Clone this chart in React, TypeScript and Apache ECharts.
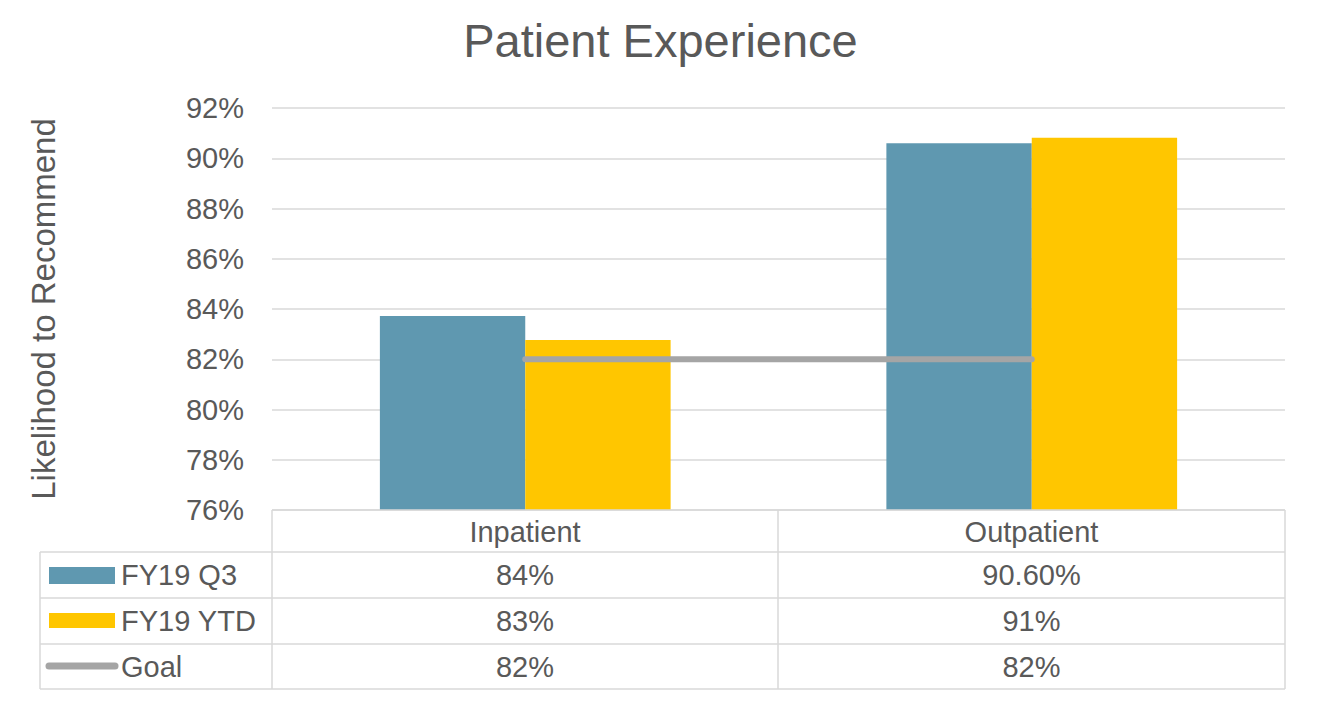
import React, { useEffect, useRef } from "react";
import * as echarts from "echarts";

const categories = ["Inpatient", "Outpatient"];
const q3Values = [83.72, 90.6];
const ytdValues = [82.77, 90.82];
const goalValues = [82, 82];
const q3Labels = ["84%", "90.60%"];
const ytdLabels = ["83%", "91%"];
const goalLabels = ["82%", "82%"];
const seriesNames = ["FY19 Q3", "FY19 YTD", "Goal"];

const TEXT = "#595959";
const GRID = "#D9D9D9";
const BLUE = "#5F98B0";
const GOLD = "#FFC600";
const GREY = "#A5A5A5";
const FONT = "Liberation Sans, Arial, sans-serif";

export default function App() {
  const ref = useRef<HTMLDivElement>(null);
  useEffect(() => {
    const chart = echarts.init(ref.current!, null, { renderer: "svg" });
    const colX = [40, 272, 778, 1285];
    const rowY = [510, 552, 598, 644, 689];
    const graphic: any[] = [];
    const line = (x1: number, y1: number, x2: number, y2: number) =>
      graphic.push({ type: "line", shape: { x1, y1, x2, y2 }, style: { stroke: GRID, lineWidth: 1.5 }, z: 10 });
    line(272, rowY[0], 1285, rowY[0]);
    for (let i = 1; i < rowY.length; i++) line(40, rowY[i], 1285, rowY[i]);
    line(colX[0], rowY[1], colX[0], rowY[4]);
    for (let i = 1; i < colX.length; i++) line(colX[i], rowY[0], colX[i], rowY[4]);
    const txt = (text: string, x: number, y: number, align = "center") =>
      graphic.push({
        type: "text",
        x,
        y,
        style: { text, fill: TEXT, font: `29px ${FONT}`, align, verticalAlign: "middle" },
        z: 10,
      });
    categories.forEach((c, i) => txt(c, (colX[i + 1] + colX[i + 2]) / 2, (rowY[0] + rowY[1]) / 2 + 1));
    const rowsLabels = [q3Labels, ytdLabels, goalLabels];
    rowsLabels.forEach((labels, r) => {
      const cy = (rowY[r + 1] + rowY[r + 2]) / 2;
      labels.forEach((l, i) => txt(l, (colX[i + 1] + colX[i + 2]) / 2, cy));
      txt(seriesNames[r], 121, cy, "left");
    });
    graphic.push({ type: "rect", shape: { x: 49, y: 567, width: 66, height: 17 }, style: { fill: BLUE }, z: 10 });
    graphic.push({ type: "rect", shape: { x: 49, y: 613, width: 66, height: 15 }, style: { fill: GOLD }, z: 10 });
    graphic.push({
      type: "line",
      shape: { x1: 49, y1: 666, x2: 115, y2: 666 },
      style: { stroke: GREY, lineWidth: 7, lineCap: "round" },
      z: 10,
    });

    chart.setOption({
      animation: false,
      backgroundColor: "#fff",
      title: {
        text: "Patient Experience",
        left: "center",
        top: 12,
        textStyle: { color: TEXT, fontSize: 47, fontWeight: "normal", fontFamily: FONT },
      },
      grid: { left: 272, right: 36, top: 108, bottom: 192 },
      xAxis: {
        type: "category",
        data: categories,
        axisLine: { show: false },
        axisTick: { show: false },
        axisLabel: { show: false },
      },
      yAxis: {
        type: "value",
        min: 76,
        max: 92,
        interval: 2,
        name: "Likelihood to Recommend",
        nameLocation: "middle",
        nameGap: 212,
        nameRotate: 90,
        nameTextStyle: { color: TEXT, fontSize: 33, fontFamily: FONT },
        axisLine: { show: false },
        axisTick: { show: false },
        axisLabel: {
          color: TEXT,
          fontSize: 29,
          fontFamily: FONT,
          margin: 28,
          formatter: (v: number) => `${v}%`,
        },
        splitLine: { lineStyle: { color: GRID, width: 1.5 } },
      },
      series: [
        { name: seriesNames[0], type: "bar", data: q3Values, itemStyle: { color: BLUE }, barWidth: "28.7%", barGap: "0%" },
        { name: seriesNames[1], type: "bar", data: ytdValues, itemStyle: { color: GOLD }, barWidth: "28.7%", barGap: "0%" },
        {
          name: seriesNames[2],
          type: "line",
          data: goalValues,
          symbol: "none",
          lineStyle: { color: GREY, width: 6, cap: "round" },
          z: 5,
        },
      ],
      graphic,
    });
    return () => chart.dispose();
  }, []);
  return <div ref={ref} style={{ position: "fixed", left: 0, top: 0, width: 1321, height: 702 }} />;
}
